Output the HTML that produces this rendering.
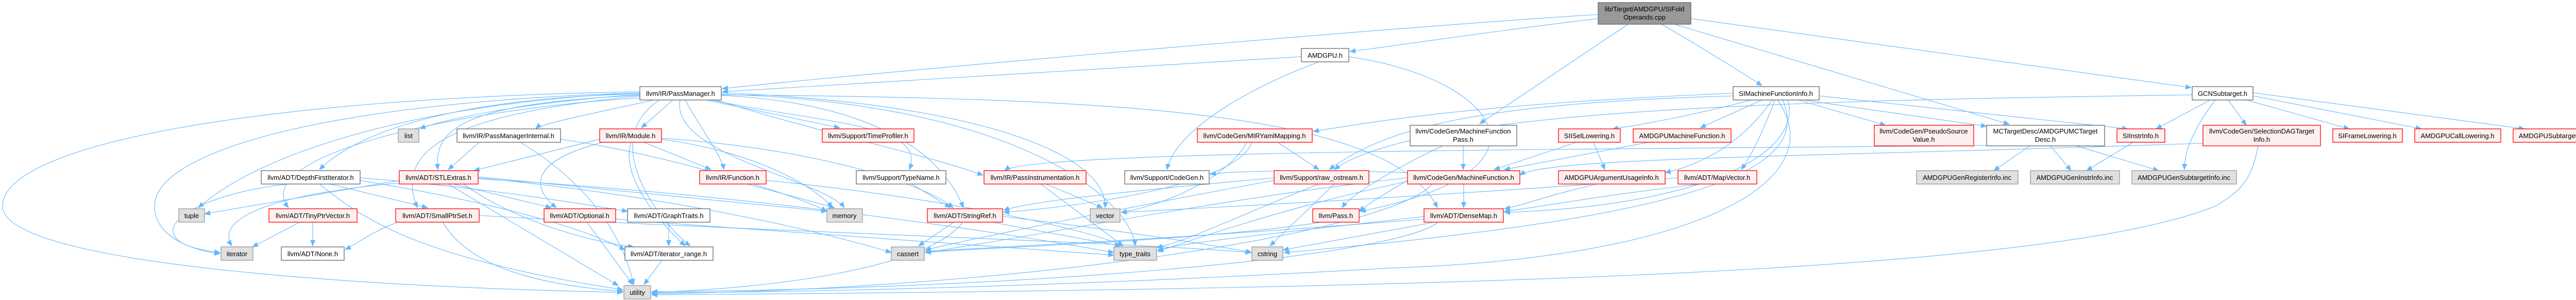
<!DOCTYPE html>
<html><head><meta charset="utf-8"><style>
html,body{margin:0;padding:0;background:#fff;}
svg{display:block;}
text{font-family:"Liberation Sans",Arial,sans-serif;font-size:13px;fill:#000;}
.w{fill:#fff;stroke:#666;stroke-width:1.3}
.r{fill:#fff0f0;stroke:#f00;stroke-width:1.3}
.g{fill:#e0e0e0;stroke:#999;stroke-width:1.3}
.t{fill:#999;stroke:#666;stroke-width:1.3}
.e{fill:none;stroke:#63b8ff;stroke-width:1.1;marker-end:url(#a)}
</style></head><body>
<svg width="5031" height="582" viewBox="0 0 5031 582" xmlns="http://www.w3.org/2000/svg">
<defs><marker id="a" markerUnits="userSpaceOnUse" markerWidth="12" markerHeight="10" refX="11" refY="5" orient="auto"><path d="M0,0 L12,5 L0,10 z" fill="#63b8ff"/></marker></defs>
<g>
<path class="e" d="M3102,36 C2900,60 2700,90 2620,100"/>
<path class="e" d="M3102,28 C2600,60 1600,150 1402,172"/>
<path class="e" d="M3160,47 L2872,240"/>
<path class="e" d="M3225,47 C3300,90 3380,140 3420,166"/>
<path class="e" d="M3250,47 L3900,241"/>
<path class="e" d="M3282,36 L4253,170"/>
<path class="e" d="M2526,110 C2000,140 1600,165 1402,178"/>
<path class="e" d="M2560,120 C2400,180 2280,260 2265,329"/>
<path class="e" d="M2618,110 C2900,150 3050,330 2640,410"/>
<path class="e" d="M1270,194 C1150,220 1050,240 1040,250"/>
<path class="e" d="M1306,194 L1245,248"/>
<path class="e" d="M1330,194 C1360,250 1400,300 1405,329"/>
<path class="e" d="M1370,194 L1630,248"/>
<path class="e" d="M1380,194 C1600,240 1800,240 1765,329"/>
<path class="e" d="M1390,194 C1600,260 1800,300 1908,340"/>
<path class="e" d="M1400,185 C1700,200 1830,300 1870,403"/>
<path class="e" d="M1242,185 C900,200 840,250 850,329"/>
<path class="e" d="M1242,182 C900,190 700,250 620,329"/>
<path class="e" d="M1242,183 C1000,200 850,235 815,250"/>
<path class="e" d="M1242,180 C800,200 500,300 385,403"/>
<path class="e" d="M1242,180 C600,200 300,300 300,400 C300,470 400,490 427,492"/>
<path class="e" d="M1242,178 C500,190 5,280 5,400 C5,520 800,560 1209,567"/>
<path class="e" d="M1242,186 C900,220 760,280 810,403"/>
<path class="e" d="M1242,190 C900,210 480,300 560,403"/>
<path class="e" d="M1400,180 C1900,200 2150,300 2145,403"/>
<path class="e" d="M1320,194 C1300,300 1600,350 1639,403"/>
<path class="e" d="M1400,183 C2000,200 2200,400 2203,477"/>
<path class="e" d="M1280,194 C1150,280 1300,450 1340,477"/>
<path class="e" d="M1400,184 C2200,190 2700,220 2790,403"/>
<path class="e" d="M930,276 L870,329"/>
<path class="e" d="M1088,270 C1300,300 1550,380 1605,410"/>
<path class="e" d="M1010,276 C1100,330 1200,420 1230,552"/>
<path class="e" d="M1164,270 L920,331"/>
<path class="e" d="M1170,276 C1000,320 1050,380 1080,403"/>
<path class="e" d="M1250,276 L1380,329"/>
<path class="e" d="M1284,270 C1500,300 1600,380 1615,403"/>
<path class="e" d="M1284,268 C1600,290 1800,360 1850,403"/>
<path class="e" d="M1225,276 C1200,350 1300,450 1330,477"/>
<path class="e" d="M1450,357 L1620,403"/>
<path class="e" d="M1487,350 C1800,380 2100,440 2180,477"/>
<path class="e" d="M560,357 C350,380 250,470 427,490"/>
<path class="e" d="M640,357 L830,403"/>
<path class="e" d="M699,345 C900,360 1100,390 1218,410"/>
<path class="e" d="M699,350 C1000,400 1150,450 1213,485"/>
<path class="e" d="M620,357 C700,420 800,500 1209,562"/>
<path class="e" d="M880,357 L1070,403"/>
<path class="e" d="M900,357 C1000,430 1150,470 1230,479"/>
<path class="e" d="M870,357 L1200,554"/>
<path class="e" d="M775,355 C500,380 420,430 450,477"/>
<path class="e" d="M928,345 C1300,380 1600,450 1730,490"/>
<path class="e" d="M928,347 C1500,380 2000,460 2162,490"/>
<path class="e" d="M775,350 L397,415"/>
<path class="e" d="M928,343 L1605,410"/>
<path class="e" d="M580,432 L490,479"/>
<path class="e" d="M607,432 L607,477"/>
<path class="e" d="M770,432 C720,450 690,475 670,484"/>
<path class="e" d="M860,432 C900,500 1000,550 1209,565"/>
<path class="e" d="M930,418 C1500,450 2200,470 2428,490"/>
<path class="e" d="M1140,432 L1228,552"/>
<path class="e" d="M1195,425 C1500,450 1800,470 2162,495"/>
<path class="e" d="M1298,432 L1298,477"/>
<path class="e" d="M1285,505 L1250,552"/>
<path class="e" d="M1850,432 L1783,477"/>
<path class="e" d="M1930,432 L2175,477"/>
<path class="e" d="M1946,420 C2200,450 2380,480 2430,490"/>
<path class="e" d="M1868,432 C1800,520 1500,560 1265,567"/>
<path class="e" d="M2030,357 L2140,403"/>
<path class="e" d="M2020,357 L2180,477"/>
<path class="e" d="M1770,357 L1845,403"/>
<path class="e" d="M2732,335 C2600,330 2400,330 2349,338"/>
<path class="e" d="M2420,276 C2380,350 2250,400 2176,412"/>
<path class="e" d="M2430,276 C2400,360 2100,400 1948,412"/>
<path class="e" d="M2480,276 L2560,329"/>
<path class="e" d="M2560,357 C2400,420 2300,470 2245,480"/>
<path class="e" d="M2590,357 L2465,477"/>
<path class="e" d="M2473,345 C2200,370 2000,390 1948,408"/>
<path class="e" d="M2473,350 C2200,400 1900,460 1796,485"/>
<path class="e" d="M2840,283 L2840,329"/>
<path class="e" d="M2800,283 C2700,330 2620,380 2605,403"/>
<path class="e" d="M2841,357 L2841,403"/>
<path class="e" d="M2732,350 C2680,380 2650,400 2638,410"/>
<path class="e" d="M2732,345 C2400,380 2000,460 1796,490"/>
<path class="e" d="M2732,352 C2500,400 2300,470 2247,488"/>
<path class="e" d="M2780,357 C2700,450 2000,560 1265,570"/>
<path class="e" d="M3060,276 L2900,329"/>
<path class="e" d="M3093,276 L3115,329"/>
<path class="e" d="M3200,276 L2920,329"/>
<path class="e" d="M3364,181 C2900,200 2700,230 2549,255"/>
<path class="e" d="M3364,186 C2900,200 2700,240 2580,329"/>
<path class="e" d="M3400,194 C3300,220 3200,240 3130,250"/>
<path class="e" d="M3420,194 L3300,248"/>
<path class="e" d="M3490,194 L3660,243"/>
<path class="e" d="M3500,194 L3856,245"/>
<path class="e" d="M3531,186 L4130,250"/>
<path class="e" d="M3440,194 C3380,280 3300,320 3232,335"/>
<path class="e" d="M3445,194 C3420,260 3400,300 3380,329"/>
<path class="e" d="M3470,194 C3500,300 3300,400 2920,412"/>
<path class="e" d="M3450,194 C3560,350 3300,500 2700,520 C2000,560 1500,567 1265,568"/>
<path class="e" d="M3460,194 C3520,330 3300,420 2492,490"/>
<path class="e" d="M4290,194 L4185,250"/>
<path class="e" d="M4325,194 L4360,243"/>
<path class="e" d="M4360,194 L4560,250"/>
<path class="e" d="M4373,186 L4700,250"/>
<path class="e" d="M4373,180 L4900,250"/>
<path class="e" d="M4300,194 C4250,260 4240,300 4240,329"/>
<path class="e" d="M4255,184 C3500,195 2750,210 2590,329"/>
<path class="e" d="M3940,283 L3870,331"/>
<path class="e" d="M3980,283 L4020,331"/>
<path class="e" d="M4030,283 L4190,331"/>
<path class="e" d="M3856,282 C3200,290 2000,290 1950,331"/>
<path class="e" d="M4140,276 L4050,331"/>
<path class="e" d="M4276,278 C3500,305 3000,305 2950,340"/>
<path class="e" d="M4383,283 C4370,350 4350,370 4300,400 C4000,520 3000,560 1265,572"/>
<path class="e" d="M3300,357 C3100,380 3000,400 2920,410"/>
<path class="e" d="M3257,345 C2800,380 2400,400 2176,412"/>
<path class="e" d="M3100,357 C3000,380 2950,400 2920,405"/>
<path class="e" d="M2764,420 C2500,450 2300,470 2247,485"/>
<path class="e" d="M2764,425 C2200,470 1900,480 1796,488"/>
<path class="e" d="M2790,432 C2700,500 2000,560 1265,566"/>
<path class="e" d="M2780,432 L2490,485"/>
<path class="e" d="M2560,432 C2300,470 1900,480 1796,490"/>
</g>
<g>
<rect class="t" x="3102" y="5" width="180" height="42"/>
<text x="3192" y="22" text-anchor="middle">lib/Target/AMDGPU/SIFold</text>
<text x="3192" y="38" text-anchor="middle">Operands.cpp</text>

<rect class="w" x="2526" y="94" width="92" height="26"/><text x="2572" y="112" text-anchor="middle">AMDGPU.h</text>
<rect class="w" x="1242" y="168" width="158" height="26"/><text x="1321" y="186" text-anchor="middle">llvm/IR/PassManager.h</text>
<rect class="w" x="3364" y="168" width="167" height="26"/><text x="3447" y="186" text-anchor="middle">SIMachineFunctionInfo.h</text>
<rect class="w" x="4255" y="168" width="118" height="26"/><text x="4314" y="186" text-anchor="middle">GCNSubtarget.h</text>

<rect class="w" x="887" y="250" width="201" height="26"/><text x="987" y="268" text-anchor="middle">llvm/IR/PassManagerInternal.h</text>
<rect class="g" x="773" y="250" width="40" height="26"/><text x="793" y="268" text-anchor="middle">list</text>
<rect class="r" x="1164" y="250" width="120" height="26"/><text x="1224" y="268" text-anchor="middle">llvm/IR/Module.h</text>
<rect class="r" x="1596" y="250" width="178" height="26"/><text x="1685" y="268" text-anchor="middle">llvm/Support/TimeProfiler.h</text>
<rect class="r" x="2324" y="250" width="223" height="26"/><text x="2435" y="268" text-anchor="middle">llvm/CodeGen/MIRYamlMapping.h</text>
<rect class="w" x="2737" y="243" width="207" height="40"/><text x="2840" y="259" text-anchor="middle">llvm/CodeGen/MachineFunction</text><text x="2840" y="275" text-anchor="middle">Pass.h</text>
<rect class="r" x="3025" y="250" width="120" height="26"/><text x="3085" y="268" text-anchor="middle">SIISelLowering.h</text>
<rect class="r" x="3170" y="250" width="190" height="26"/><text x="3265" y="268" text-anchor="middle">AMDGPUMachineFunction.h</text>
<rect class="r" x="3638" y="243" width="193" height="40"/><text x="3734" y="259" text-anchor="middle">llvm/CodeGen/PseudoSource</text><text x="3734" y="275" text-anchor="middle">Value.h</text>
<rect class="w" x="3856" y="243" width="229" height="40"/><text x="3970" y="259" text-anchor="middle">MCTargetDesc/AMDGPUMCTarget</text><text x="3970" y="275" text-anchor="middle">Desc.h</text>
<rect class="r" x="4109" y="250" width="93" height="26"/><text x="4155" y="268" text-anchor="middle">SIInstrInfo.h</text>
<rect class="r" x="4276" y="243" width="228" height="40"/><text x="4390" y="259" text-anchor="middle">llvm/CodeGen/SelectionDAGTarget</text><text x="4390" y="275" text-anchor="middle">Info.h</text>
<rect class="r" x="4528" y="250" width="135" height="26"/><text x="4595" y="268" text-anchor="middle">SIFrameLowering.h</text>
<rect class="r" x="4687" y="250" width="167" height="26"/><text x="4770" y="268" text-anchor="middle">AMDGPUCallLowering.h</text>
<rect class="r" x="4878" y="250" width="146" height="26"/><text x="4951" y="268" text-anchor="middle">AMDGPUSubtarget.h</text>

<rect class="w" x="507" y="331" width="192" height="26"/><text x="603" y="349" text-anchor="middle">llvm/ADT/DepthFirstIterator.h</text>
<rect class="r" x="775" y="331" width="153" height="26"/><text x="851" y="349" text-anchor="middle">llvm/ADT/STLExtras.h</text>
<rect class="r" x="1358" y="331" width="129" height="26"/><text x="1422" y="349" text-anchor="middle">llvm/IR/Function.h</text>
<rect class="w" x="1662" y="331" width="174" height="26"/><text x="1749" y="349" text-anchor="middle">llvm/Support/TypeName.h</text>
<rect class="r" x="1910" y="331" width="198" height="26"/><text x="2009" y="349" text-anchor="middle">llvm/IR/PassInstrumentation.h</text>
<rect class="w" x="2183" y="331" width="164" height="26"/><text x="2265" y="349" text-anchor="middle">llvm/Support/CodeGen.h</text>
<rect class="r" x="2473" y="331" width="184" height="26"/><text x="2565" y="349" text-anchor="middle">llvm/Support/raw_ostream.h</text>
<rect class="r" x="2732" y="331" width="218" height="26"/><text x="2841" y="349" text-anchor="middle">llvm/CodeGen/MachineFunction.h</text>
<rect class="r" x="3025" y="331" width="207" height="26"/><text x="3128" y="349" text-anchor="middle">AMDGPUArgumentUsageInfo.h</text>
<rect class="r" x="3257" y="331" width="153" height="26"/><text x="3333" y="349" text-anchor="middle">llvm/ADT/MapVector.h</text>
<rect class="g" x="3720" y="331" width="197" height="26"/><text x="3818" y="349" text-anchor="middle">AMDGPUGenRegisterInfo.inc</text>
<rect class="g" x="3941" y="331" width="173" height="26"/><text x="4027" y="349" text-anchor="middle">AMDGPUGenInstrInfo.inc</text>
<rect class="g" x="4138" y="331" width="203" height="26"/><text x="4239" y="349" text-anchor="middle">AMDGPUGenSubtargetInfo.inc</text>

<rect class="g" x="347" y="405" width="50" height="26"/><text x="372" y="423" text-anchor="middle">tuple</text>
<rect class="r" x="522" y="405" width="171" height="26"/><text x="607" y="423" text-anchor="middle">llvm/ADT/TinyPtrVector.h</text>
<rect class="r" x="768" y="405" width="162" height="26"/><text x="849" y="423" text-anchor="middle">llvm/ADT/SmallPtrSet.h</text>
<rect class="r" x="1056" y="405" width="139" height="26"/><text x="1125" y="423" text-anchor="middle">llvm/ADT/Optional.h</text>
<rect class="w" x="1218" y="405" width="160" height="26"/><text x="1298" y="423" text-anchor="middle">llvm/ADT/GraphTraits.h</text>
<rect class="g" x="1605" y="405" width="69" height="26"/><text x="1639" y="423" text-anchor="middle">memory</text>
<rect class="r" x="1800" y="405" width="146" height="26"/><text x="1873" y="423" text-anchor="middle">llvm/ADT/StringRef.h</text>
<rect class="g" x="2116" y="405" width="58" height="26"/><text x="2145" y="423" text-anchor="middle">vector</text>
<rect class="r" x="2548" y="405" width="90" height="26"/><text x="2593" y="423" text-anchor="middle">llvm/Pass.h</text>
<rect class="r" x="2764" y="405" width="154" height="26"/><text x="2841" y="423" text-anchor="middle">llvm/ADT/DenseMap.h</text>

<rect class="g" x="429" y="479" width="62" height="26"/><text x="460" y="497" text-anchor="middle">iterator</text>
<rect class="w" x="546" y="479" width="122" height="26"/><text x="607" y="497" text-anchor="middle">llvm/ADT/None.h</text>
<rect class="w" x="1213" y="479" width="171" height="26"/><text x="1298" y="497" text-anchor="middle">llvm/ADT/iterator_range.h</text>
<rect class="g" x="1730" y="479" width="64" height="26"/><text x="1762" y="497" text-anchor="middle">cassert</text>
<rect class="g" x="2162" y="479" width="83" height="26"/><text x="2203" y="497" text-anchor="middle">type_traits</text>
<rect class="g" x="2430" y="479" width="60" height="26"/><text x="2460" y="497" text-anchor="middle">cstring</text>

<rect class="g" x="1211" y="554" width="52" height="26"/><text x="1237" y="572" text-anchor="middle">utility</text>
</g>
</svg>
</body></html>
